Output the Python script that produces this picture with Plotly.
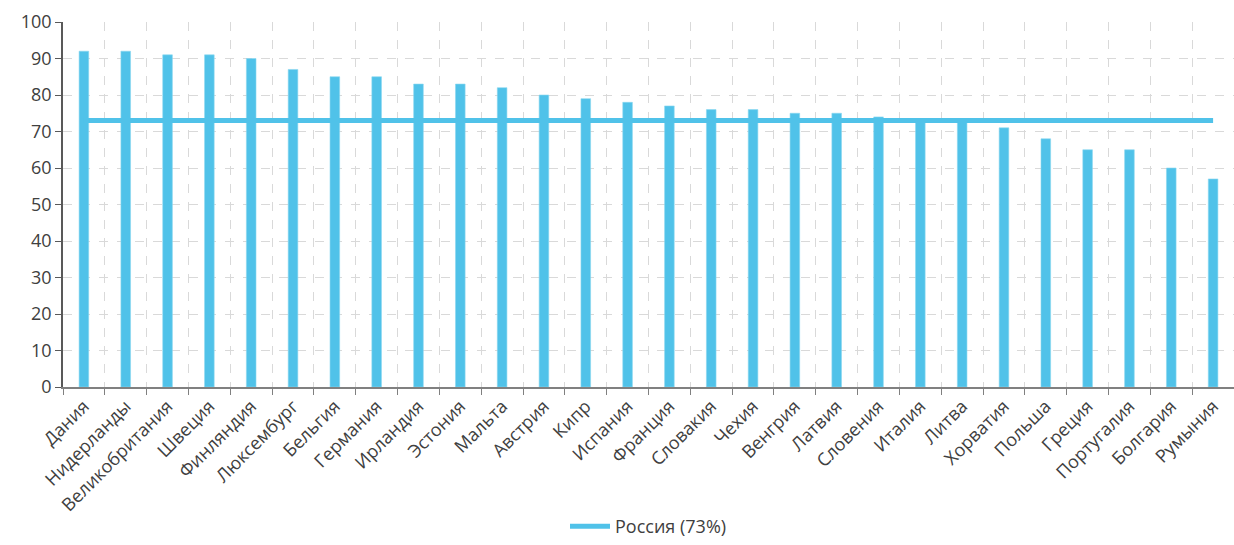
import plotly.graph_objects as go

# Country shares (%) and the Russian benchmark
countries = [
    "Дания", "Нидерланды", "Великобритания", "Швеция", "Финляндия", "Люксембург",
    "Бельгия", "Германия", "Ирландия", "Эстония", "Мальта", "Австрия", "Кипр",
    "Испания", "Франция", "Словакия", "Чехия", "Венгрия", "Латвия", "Словения",
    "Италия", "Литва", "Хорватия", "Польша", "Греция", "Португалия", "Болгария",
    "Румыния",
]
shares = [92, 92, 91, 91, 90, 87, 85, 85, 83, 83, 82, 80, 79, 78, 77, 76, 76,
          75, 75, 74, 73, 73, 71, 68, 65, 65, 60, 57]
russia_value = 73
russia_label = "Россия (73%)"
y_ticks = list(range(0, 101, 10))

BLUE = "#50C2E9"
TEXT = "#404040"
FONT = "Open Sans"

fig = go.Figure()

fig.add_trace(go.Bar(
    x=countries,
    y=shares,
    width=0.23,
    marker=dict(color=BLUE, line=dict(color="#8AD6F0", width=0.6)),
    showlegend=False,
    hoverinfo="x+y",
))

fig.add_trace(go.Scatter(
    x=countries,
    y=[russia_value] * len(countries),
    mode="lines",
    line=dict(color=BLUE, width=5),
    name=russia_label,
))

fig.update_layout(
    width=1234,
    height=545,
    margin=dict(l=63, r=0, t=22, b=158),
    plot_bgcolor="white",
    paper_bgcolor="white",
    font=dict(family=FONT, size=18, color=TEXT),
    legend=dict(
        orientation="h",
        x=0.5, xanchor="center",
        yref="container", y=0.0, yanchor="bottom",
        font=dict(family=FONT, size=18, color=TEXT),
        itemwidth=40,
    ),
)

fig.update_xaxes(
    type="category",
    tickangle=-45,
    tickson="boundaries",
    ticks="outside",
    ticklen=6,
    tickcolor="#808080",
    showline=True,
    linecolor="#808080",
    linewidth=1.5,
    showgrid=True,
    gridcolor="#D9D9D9",
    griddash="dash",
    gridwidth=1,
    automargin=False,
    tickfont=dict(family=FONT, size=18, color=TEXT),
)

fig.update_yaxes(
    range=[0, 100],
    tickvals=y_ticks,
    ticks="outside",
    ticklen=6,
    tickcolor="#595959",
    showline=True,
    linecolor="#595959",
    linewidth=1.5,
    showgrid=True,
    gridcolor="#D9D9D9",
    griddash="dash",
    gridwidth=1,
    zeroline=False,
    automargin=False,
    tickfont=dict(family=FONT, size=18, color=TEXT),
)

fig.write_html("out.html")
